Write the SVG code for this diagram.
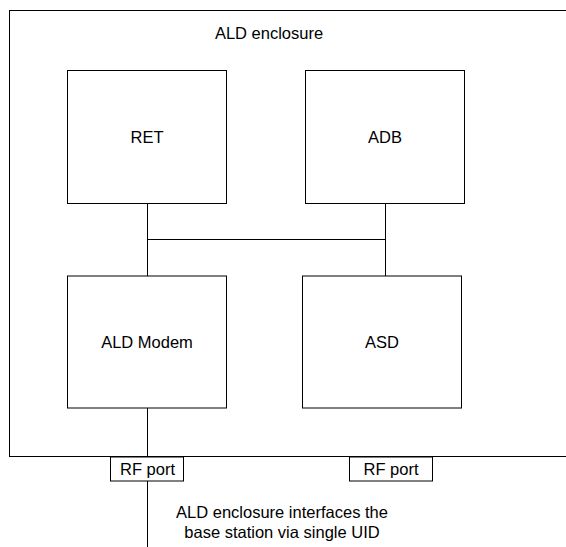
<svg xmlns="http://www.w3.org/2000/svg" width="566" height="547" viewBox="0 0 566 547">
<style>
.box{fill:#fff;stroke:#000;stroke-width:1}
.ln{fill:none;stroke:#000;stroke-width:1}
text{font-family:"Liberation Sans",Arial,sans-serif;font-size:16.5px;fill:#000;text-anchor:middle}
</style>
<rect width="566" height="547" fill="#fff"/>
<g id="enclosure">
<rect class="box" x="9.5" y="10.5" width="570" height="446"/>
<text x="269" y="39">ALD enclosure</text>
</g>
<g id="connectors">
<path class="ln" d="M147.5 203V276M385.5 203V276M147.5 239.5H385.5M147.5 408V457M147.5 481V547"/>
</g>
<g id="ret">
<rect class="box" x="67.5" y="70.5" width="159" height="133"/>
<text x="147" y="143">RET</text>
</g>
<g id="adb">
<rect class="box" x="305.5" y="70.5" width="159" height="133"/>
<text x="385" y="143">ADB</text>
</g>
<g id="modem">
<rect class="box" x="67.5" y="276" width="159" height="132"/>
<text x="147" y="348">ALD Modem</text>
</g>
<g id="asd">
<rect class="box" x="302.5" y="276" width="159" height="132"/>
<text x="382" y="348">ASD</text>
</g>
<g id="rf1">
<rect class="box" x="110.5" y="457" width="73" height="24"/>
<text x="147.5" y="475">RF port</text>
</g>
<g id="rf2">
<rect class="box" x="349.5" y="457" width="83" height="24"/>
<text x="391" y="475">RF port</text>
</g>
<g id="note">
<text x="282" y="518">ALD enclosure interfaces the</text>
<text x="282" y="538">base station via single UID</text>
</g>
</svg>
